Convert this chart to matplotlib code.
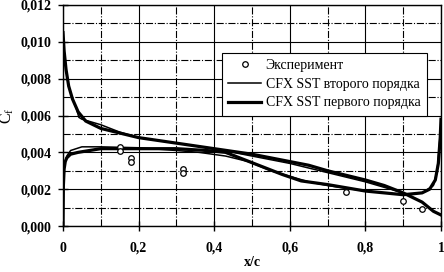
import matplotlib
matplotlib.use("Agg")
import matplotlib.pyplot as plt
from matplotlib.ticker import FixedLocator, MultipleLocator

plt.rcParams['font.family'] = ['Liberation Serif', 'DejaVu Serif']

# Experiment
exp_x = [0.151, 0.151, 0.18, 0.18, 0.317, 0.317, 0.75, 0.90, 0.95]
exp_y = [0.0043, 0.0041, 0.0037, 0.0035, 0.0031, 0.0029, 0.00185, 0.00135, 0.0009]

# CFX SST second order (thin)
s2_up_x = [0, 0.003, 0.008, 0.015, 0.025, 0.035, 0.042, 0.05, 0.1, 0.15, 0.2, 0.3, 0.4, 0.5, 0.6, 0.7, 0.8, 0.9, 0.95, 0.98, 1.0]
s2_up_y = [0.0105, 0.0095, 0.0085, 0.0076, 0.0069, 0.0064, 0.0059, 0.0058, 0.0055, 0.0051, 0.0048, 0.0045, 0.0042, 0.0038, 0.0034, 0.0029, 0.0024, 0.0018, 0.0013, 0.0008, 0.0006]
s2_lo_x = [0, 0.001, 0.003, 0.01, 0.02, 0.05, 0.1, 0.2, 0.3, 0.36, 0.43, 0.49, 0.55, 0.6, 0.65, 0.7, 0.8, 0.9, 0.95, 0.98, 0.99, 1.0]
s2_lo_y = [0.0, 0.0025, 0.0033, 0.0038, 0.0041, 0.0043, 0.0043, 0.00425, 0.0041, 0.0040, 0.0038, 0.0035, 0.0030, 0.0027, 0.0024, 0.0022, 0.0019, 0.0017, 0.0018, 0.0022, 0.0030, 0.0055]

# CFX SST first order (thick)
s1_up_x = [0, 0.003, 0.008, 0.015, 0.025, 0.04, 0.06, 0.1, 0.15, 0.2, 0.3, 0.4, 0.5, 0.6, 0.65, 0.7, 0.8, 0.85, 0.9, 0.95, 0.98, 0.99, 1.0]
s1_up_y = [0.0105, 0.0095, 0.0085, 0.0076, 0.0069, 0.0062, 0.0057, 0.0053, 0.00505, 0.0048, 0.0045, 0.0042, 0.0039, 0.0035, 0.0033, 0.0030, 0.0025, 0.0022, 0.0018, 0.0013, 0.0008, 0.0007, 0.0006]
s1_lo_x = [0, 0.001, 0.003, 0.006, 0.01, 0.02, 0.04, 0.07, 0.1, 0.2, 0.3, 0.38, 0.43, 0.48, 0.53, 0.58, 0.63, 0.7, 0.8, 0.9, 0.95, 0.97, 0.985, 0.993, 0.998, 1.0]
s1_lo_y = [0.0, 0.0022, 0.0031, 0.0035, 0.0037, 0.0039, 0.0040, 0.0041, 0.0042, 0.0042, 0.0042, 0.0041, 0.0040, 0.0036, 0.0032, 0.0028, 0.00245, 0.00225, 0.0019, 0.0017, 0.0018, 0.0020, 0.0025, 0.0034, 0.0048, 0.0058]

x_ticks = [0, 0.2, 0.4, 0.6, 0.8, 1.0]
x_labels = ['0', '0,2', '0,4', '0,6', '0,8', '1']
y_ticks = [0, 0.002, 0.004, 0.006, 0.008, 0.010, 0.012]
y_labels = ['0,000', '0,002', '0,004', '0,006', '0,008', '0,010', '0,012']

fig = plt.figure(figsize=(4.44, 2.72), dpi=100)
ax = fig.add_axes([0.1419, 0.169, 0.8513, 0.8126])

ax.plot(exp_x, exp_y, 'o', mfc='white', mec='black', ms=4, mew=0.9, label='Эксперимент', zorder=5)
ax.plot(s2_up_x, s2_up_y, color='black', lw=1.1, label='CFX SST второго порядка', zorder=3)
ax.plot(s2_lo_x, s2_lo_y, color='black', lw=1.1, zorder=3)
ax.plot(s1_up_x, s1_up_y, color='black', lw=2.3, label='CFX SST первого порядка', zorder=4)
ax.plot(s1_lo_x, s1_lo_y, color='black', lw=2.3, zorder=4)

ax.set_xlim(0, 1)
ax.set_ylim(0, 0.012)
ax.xaxis.set_major_locator(FixedLocator(x_ticks))
ax.yaxis.set_major_locator(FixedLocator(y_ticks))
ax.set_xticklabels(x_labels)
ax.set_yticklabels(y_labels)
ax.xaxis.set_minor_locator(MultipleLocator(0.1))
ax.yaxis.set_minor_locator(MultipleLocator(0.001))
ax.tick_params(which='major', direction='inout', length=7, width=1, labelsize=10, colors='black')
ax.tick_params(axis='x', which='major', pad=8)
ax.tick_params(axis='y', which='major', pad=5)
ax.tick_params(which='minor', length=0)
for lab in ax.get_xticklabels() + ax.get_yticklabels():
    lab.set_fontweight('bold')
ax.grid(which='major', color='black', lw=0.8, ls='-')
ax.grid(which='minor', color='black', lw=0.8, ls='-.')
ax.set_axisbelow(True)
for sp in ax.spines.values():
    sp.set_linewidth(1.0)

ax.set_xlabel('x/c', fontsize=10, fontweight='bold', labelpad=1)
ax.set_ylabel(r'$\mathregular{C_f}$', fontsize=11.5, labelpad=3)

leg = ax.legend(loc='upper left', bbox_to_anchor=(0.42, 0.785), fontsize=10, frameon=True,
                fancybox=False, edgecolor='black', framealpha=1, handlelength=2.4,
                borderpad=0.45, labelspacing=0.42, handletextpad=0.3, borderaxespad=0)
leg.get_frame().set_linewidth(0.8)

fig.savefig('out.png', dpi=100)
